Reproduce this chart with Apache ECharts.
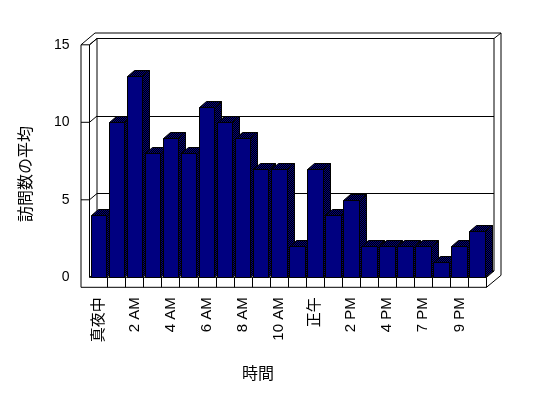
<!DOCTYPE html>
<html>
<head>
<meta charset="utf-8">
<script src="https://cdn.jsdelivr.net/npm/echarts@6/dist/echarts.min.js"></script>
<style>
  html, body { margin: 0; background: #fff; }
  #chart { width: 548px; height: 398px; }
</style>
</head>
<body>
<div id="chart"></div>
<script>
// --- data ---
const hours = ['真夜中', '1 AM', '2 AM', '3 AM', '4 AM', '5 AM', '6 AM', '7 AM', '8 AM', '9 AM',
  '10 AM', '11 AM', '正午', '1 PM', '2 PM', '3 PM', '4 PM', '5 PM', '7 PM', '8 PM', '9 PM', '10 PM'];
const visits = [4, 10, 13, 8, 9, 8, 11, 10, 9, 7, 7, 2, 7, 4, 5, 2, 2, 2, 2, 1, 2, 3];
const yTicks = [0, 5, 10, 15];
const yName = '訪問数の平均';
const xName = '時間';

// --- look ---
const FONT = '"Liberation Sans", "Noto Sans CJK JP", sans-serif';
const NAVY = '#000080';
const DX = 7, DY = 6;        // bar depth
const WX = 7.5, WY = 6.3;    // wall depth
const L = 89.5, R = 486.5, T = 44.8, B = 277.3;  // front plane of the plot

// black/navy checker like the old Excel shading
function dither() {
  const c = document.createElement('canvas');
  c.width = c.height = 2;
  const g = c.getContext('2d');
  g.fillStyle = '#000'; g.fillRect(0, 0, 2, 2);
  g.fillStyle = NAVY; g.fillRect(0, 0, 1, 1); g.fillRect(1, 1, 1, 1);
  return { image: c, repeat: 'repeat' };
}
const darkFace = dither();
const snap = v => Math.round(v) + 0.5;
const edge = { stroke: '#000', lineWidth: 1 };

function renderBar(params, api) {
  const top = api.coord([api.value(0), api.value(1)]);
  const base = api.coord([api.value(0), 0]);
  const w = api.size([1, 0])[0];
  const x0 = snap(top[0] - w / 2 + 1), x1 = snap(top[0] + w / 2 - 1.5);
  const yt = snap(top[1]), yb = snap(base[1]);
  return {
    type: 'group',
    children: [
      { type: 'polygon', shape: { points: [[x1, yt], [x1 + DX, yt - DY], [x1 + DX, yb - DY], [x1, yb]] },
        style: Object.assign({ fill: darkFace }, edge) },
      { type: 'polygon', shape: { points: [[x0, yt], [x0 + DX, yt - DY], [x1 + DX, yt - DY], [x1, yt]] },
        style: Object.assign({ fill: darkFace }, edge) },
      { type: 'rect', shape: { x: x0, y: yt, width: x1 - x0, height: yb - yt },
        style: Object.assign({ fill: NAVY }, edge) }
    ]
  };
}

const chart = echarts.init(document.getElementById('chart'));
chart.setOption({
  animation: false,
  backgroundColor: '#fff',
  grid: [
    { left: L, right: 548 - R, top: T, bottom: 398 - B },
    { left: L + WX, right: 548 - R - WX, top: T - WY, bottom: 398 - B + WY,
      show: true, borderColor: '#000', borderWidth: 1 }
  ],
  xAxis: [
    {
      type: 'category', gridIndex: 0, data: hours,
      axisLine: { show: false },
      axisTick: { show: true, length: 10, interval: i => i > 0, lineStyle: { color: '#000' } },
      axisLabel: { interval: 1, rotate: 90, margin: 20, fontSize: 15, color: '#000', fontFamily: FONT,
        padding: [0, 0, 6, 0] }
    },
    { type: 'category', gridIndex: 1, data: hours, show: false }
  ],
  yAxis: [
    {
      type: 'value', gridIndex: 0, min: 0, max: 15, interval: 5,
      axisLine: { show: false }, axisTick: { show: false }, splitLine: { show: false },
      axisLabel: { margin: 20, fontSize: 14, color: '#000', fontFamily: FONT }
    },
    {
      type: 'value', gridIndex: 1, min: 0, max: 15, interval: 5,
      axisLine: { show: false }, axisTick: { show: false }, axisLabel: { show: false },
      splitLine: { lineStyle: { color: '#000', width: 1 } }
    }
  ],
  series: [{
    type: 'custom',
    xAxisIndex: 0, yAxisIndex: 0,
    data: visits.map((v, i) => [i, v]),
    encode: { x: 0, y: 1 },
    renderItem: renderBar,
    clip: false,
    z: 5
  }]
});

// --- walls and floor ---
function seg(a, b) {
  return { type: 'polyline', z: 1, silent: true,
    shape: { points: [a, b] }, style: { stroke: '#000', lineWidth: 1, fill: null } };
}
const yPix = v => chart.convertToPixel({ yAxisIndex: 0 }, v);
const xL0 = 81, xBack = R + WX, xOut = 501, yOut = 33, yFloor = B + 10;
const frame = [
  seg([xL0, T], [xL0, yFloor]),
  seg([L, T], [L, B]),
  seg([xL0, T], [L, T]),
  seg([xL0, T], [95, yOut]),
  seg([L, T], [L + WX, T - WY]),
  seg([95, yOut], [xOut, yOut]),
  seg([xOut, yOut], [xOut, B - 2]),
  seg([xBack, T - WY], [xOut, yOut]),
  seg([L, B], [R, B]),
  seg([xL0, yFloor], [R, yFloor]),
  seg([R, B], [R, yFloor]),
  seg([R, yFloor], [xOut, B - 2]),
  seg([R, B], [xBack, B - WY])
];
yTicks.forEach(v => {
  const y = yPix(v);
  if (v > 0 && v < 15) frame.push(seg([xL0, y], [L, y]));
  frame.push(seg([L, y], [L + WX, y - WY]));
});
frame.push(
  { type: 'text', z: 1, x: 27, y: 174, rotation: Math.PI / 2,
    style: { text: yName, font: '16px ' + FONT, fill: '#000', align: 'center', verticalAlign: 'middle' } },
  { type: 'text', z: 1, x: 258, y: 375,
    style: { text: xName, font: '16px ' + FONT, fill: '#000', align: 'center', verticalAlign: 'middle' } }
);
chart.setOption({ graphic: frame });
</script>
</body>
</html>
